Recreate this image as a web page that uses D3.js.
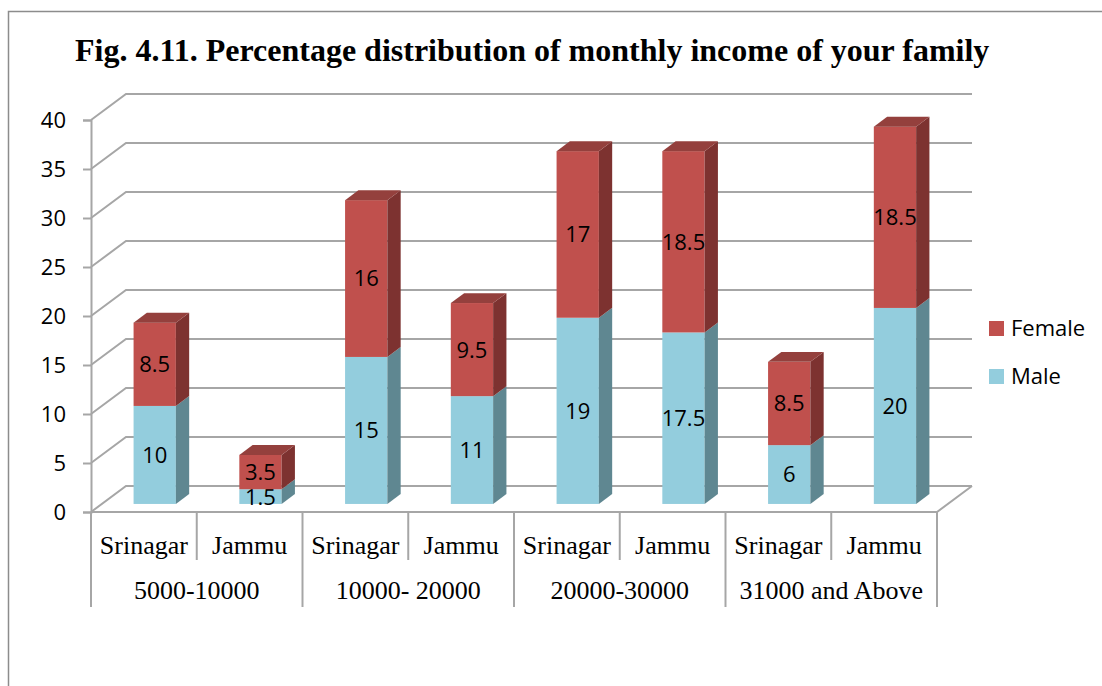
<!DOCTYPE html>
<html>
<head>
<meta charset="utf-8">
<script src="https://cdn.jsdelivr.net/npm/d3@7"></script>
<style>
  body { margin: 0; background: #fff; }
</style>
</head>
<body>
<div class="chart"></div>
<script>
// chart values
let groups = ["5000-10000", "10000- 20000", "20000-30000", "31000 and Above"];
let cities = ["Srinagar", "Jammu"];
let male = [10, 1.5, 15, 11, 19, 17.5, 6, 20];
let female = [8.5, 3.5, 16, 9.5, 17, 18.5, 8.5, 18.5];
let yTicks = [0, 5, 10, 15, 20, 25, 30, 35, 40];
let seriesNames = ["Female", "Male"];

let svgWidth = 1102;
let svgHeight = 686;

// front plane of the 3d box
let plot = { left: 91, right: 937, top: 120, bottom: 512 };
let DX = 35, DY = -26;          // depth of the box
let barFront = 0.31, barDepth = 0.38;  // bars sit in the middle of the depth

let colors = {
  Male:   { front: "#93cddd", side: "#5f8791", top: "#7ab0be" },
  Female: { front: "#c0504d", side: "#7d3230", top: "#94403d" }
};

let svg = d3.select(".chart")
    .append("svg")
    .attr("width", svgWidth)
    .attr("height", svgHeight);

// outer border (only top and left visible)
svg.append("path")
    .attr("d", `M8.5,${svgHeight} V11.5 H${svgWidth}`)
    .attr("fill", "none")
    .attr("stroke", "#8c8c8c")
    .attr("stroke-width", 1.5);

svg.append("text")
    .attr("x", 75)
    .attr("y", 61)
    .style("font-family", "'Liberation Serif', 'Times New Roman', serif")
    .style("font-weight", "bold")
    .style("font-size", "32px")
    .attr("fill", "#000")
    .text("Fig. 4.11. Percentage distribution of monthly income of your family");

let keys = [];
groups.forEach(g => cities.forEach(c => keys.push(g + "|" + c)));

let xScale = d3.scaleBand()
    .domain(keys)
    .range([plot.left, plot.right])
    .paddingInner(0.6)
    .paddingOuter(0.3);

let yScale = d3.scaleLinear()
    .domain([0, 40])
    .range([plot.bottom, plot.top]);

let gridColor = "#a6a6a6";

// back wall grid + left wall diagonals
let grid = svg.append("g");
yTicks.forEach(t => {
  let y = yScale(t);
  grid.append("path")
      .attr("d", `M${plot.left},${y} L${plot.left + DX},${y + DY} H${plot.right + DX}`)
      .attr("fill", "none")
      .attr("stroke", gridColor)
      .attr("stroke-width", 2);
});

// floor
grid.append("path")
    .attr("d", `M${plot.left},${plot.bottom} H${plot.right} L${plot.right + DX},${plot.bottom + DY}`)
    .attr("fill", "none")
    .attr("stroke", gridColor)
    .attr("stroke-width", 2);

// y axis
let leftAxis = d3.axisLeft(yScale)
    .tickValues(yTicks)
    .tickSize(8)
    .tickPadding(17);

let yAxis = svg.append("g")
    .attr("transform", `translate(${plot.left}, 0)`)
    .call(leftAxis);
yAxis.select(".domain").attr("stroke", gridColor).attr("stroke-width", 2);
yAxis.selectAll(".tick line").attr("stroke", gridColor).attr("stroke-width", 2);
yAxis.selectAll(".tick text")
    .style("font-family", "'Open Sans', sans-serif")
    .style("font-size", "22px")
    .attr("fill", "#000");

// bars
let rows = keys.map((k, i) => ({ key: k, Male: male[i], Female: female[i] }));
let stack = d3.stack().keys(["Male", "Female"])(rows);

let bw = xScale.bandwidth();
let fx = barFront * DX, fy = barFront * DY;
let sx = barDepth * DX, sy = barDepth * DY;

let bars = svg.append("g");
stack.forEach(layer => {
  let name = layer.key;
  let isTop = name === "Female";
  layer.forEach(seg => {
    let key = seg.data.key;
    let x0 = xScale(key) + fx;
    let x1 = x0 + bw;
    let yb = yScale(seg[0]) + fy;
    let yt = yScale(seg[1]) + fy;
    let g = bars.append("g");
    g.append("rect")
        .attr("x", x0).attr("y", yt)
        .attr("width", bw).attr("height", yb - yt)
        .attr("fill", colors[name].front);
    g.append("path")
        .attr("d", `M${x1},${yb} V${yt} L${x1 + sx},${yt + sy} V${yb + sy} Z`)
        .attr("fill", colors[name].side);
    if (isTop) {
      g.append("path")
          .attr("d", `M${x0},${yt} H${x1} L${x1 + sx},${yt + sy} H${x0 + sx} Z`)
          .attr("fill", colors[name].top);
    }
    g.append("text")
        .attr("x", x0 + bw / 2)
        .attr("y", (yb + yt) / 2)
        .attr("dy", "0.36em")
        .attr("text-anchor", "middle")
        .style("font-family", "'Open Sans', sans-serif")
        .style("font-size", "22px")
        .attr("fill", "#000")
        .text(seg[1] - seg[0]);
  });
});

// category table under the floor
let step = xScale.step();
let axisG = svg.append("g");
let serif = "'Liberation Serif', 'Times New Roman', serif";
keys.forEach((k, i) => {
  let xLeft = plot.left + i * step;
  let isGroupEdge = i % 2 === 0;
  axisG.append("line")
      .attr("x1", xLeft).attr("x2", xLeft)
      .attr("y1", plot.bottom).attr("y2", isGroupEdge ? 607 : 560)
      .attr("stroke", gridColor).attr("stroke-width", 2);
  axisG.append("text")
      .attr("x", xLeft + step / 2)
      .attr("y", 554)
      .attr("text-anchor", "middle")
      .style("font-family", serif)
      .style("font-size", "26px")
      .attr("fill", "#000")
      .text(k.split("|")[1]);
});
axisG.append("line")
    .attr("x1", plot.right).attr("x2", plot.right)
    .attr("y1", plot.bottom).attr("y2", 607)
    .attr("stroke", gridColor).attr("stroke-width", 2);

groups.forEach((g, i) => {
  axisG.append("text")
      .attr("x", plot.left + (i * 2 + 1) * step)
      .attr("y", 599)
      .attr("text-anchor", "middle")
      .style("font-family", serif)
      .style("font-size", "26px")
      .attr("fill", "#000")
      .text(g);
});

// legend
let legend = svg.append("g").attr("transform", "translate(989, 321)");
seriesNames.forEach((s, i) => {
  legend.append("rect")
      .attr("x", 0).attr("y", i * 48)
      .attr("width", 15).attr("height", 15)
      .attr("fill", colors[s].front);
  legend.append("text")
      .attr("x", 22).attr("y", i * 48 + 15)
      .style("font-family", "'Open Sans', sans-serif")
      .style("font-size", "22px")
      .attr("fill", "#000")
      .text(s);
});
</script>
</body>
</html>
